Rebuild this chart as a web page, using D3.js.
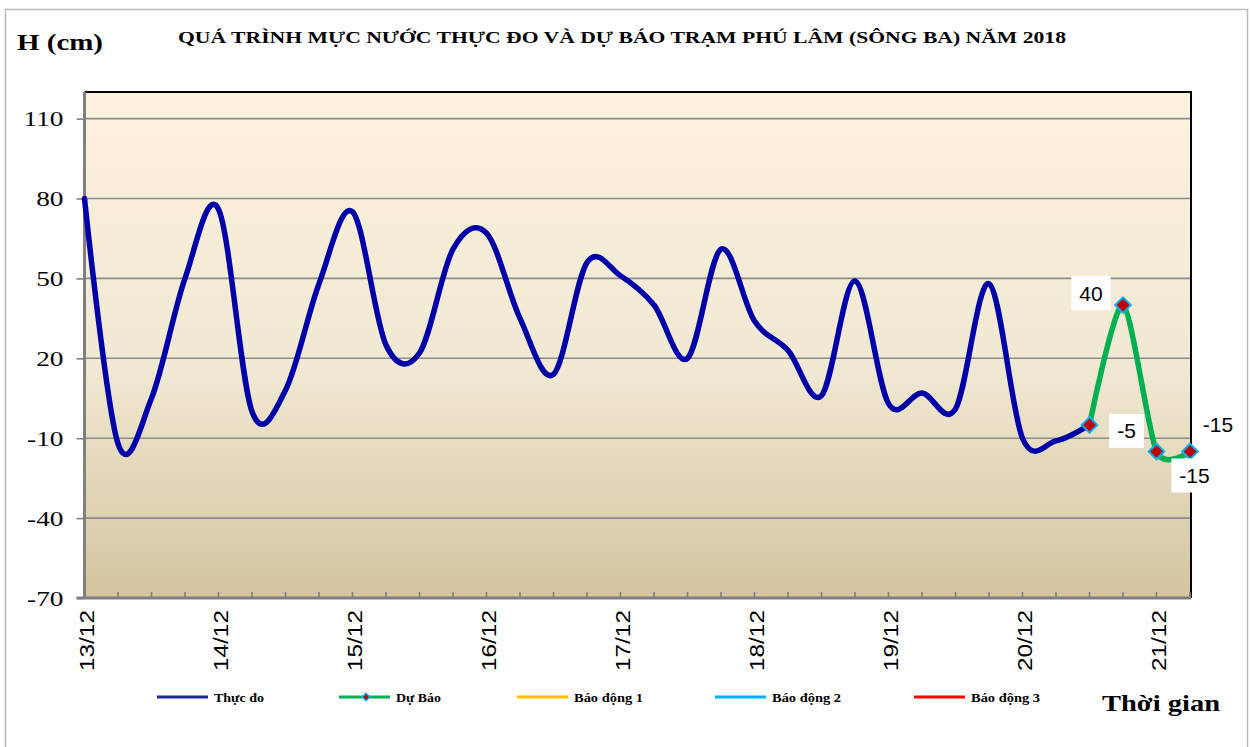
<!DOCTYPE html>
<html>
<head>
<meta charset="utf-8">
<script src="https://cdn.jsdelivr.net/npm/d3@7/dist/d3.min.js"></script>
<style>
  html, body { margin: 0; padding: 0; background: #fff; }
  svg { display: block; }
</style>
</head>
<body>
<script>
// ---------------- DATA ----------------
const dayLabels = ["13/12", "14/12", "15/12", "16/12", "17/12", "18/12", "19/12", "20/12", "21/12"];
const stepsPerDay = 4; // 6-hourly values
const observed = [80, -12, 5, 50, 76, 0, 8, 48, 75, 25, 22, 61, 67, 35, 14, 56, 51, 40, 20, 61, 34, 23, 6, 49, 3, 7, 1, 48, -10, -11, -5];
const forecast = [-5, 40, -15, -15];
const forecastStart = 30;
const yTicks = [110, 80, 50, 20, -10, -40, -70];
const legendItems = ["Thực đo", "Dự Báo", "Báo động 1", "Báo động 2", "Báo động 3"];
const titleText = "QUÁ TRÌNH MỰC NƯỚC THỰC ĐO VÀ DỰ BÁO TRẠM PHÚ LÂM (SÔNG BA) NĂM 2018";

// ---------------- LAYOUT ----------------
const W = 1251, H = 747;
const plot = { left: 84.5, right: 1191, top: 92, bottom: 598 };
const nPoints = observed.length + forecast.length - 1; // 34
const fmt = d => String(d); // plain hyphen-minus like the original

const svg = d3.select("body").append("svg").attr("width", W).attr("height", H);

const x = d3.scaleLinear().domain([0, nPoints - 1]).range([plot.left, plot.right - 1]);
const y = d3.scaleLinear().domain([-70, 120]).range([plot.bottom, plot.top]);

// background + outer border
svg.append("rect").attr("width", W).attr("height", H).attr("fill", "#fff");
svg.append("rect").attr("x", 5.5).attr("y", 9.5).attr("width", 1242).attr("height", 745)
  .attr("fill", "none").attr("stroke", "#B8B8B8").attr("stroke-width", 1.5);

const defs = svg.append("defs");
const grad = defs.append("linearGradient").attr("id", "bg").attr("x1", 0).attr("y1", 0).attr("x2", 0).attr("y2", 1);
grad.append("stop").attr("offset", "0%").attr("stop-color", "#FCF2DE");
grad.append("stop").attr("offset", "55%").attr("stop-color", "#F0E8D2");
grad.append("stop").attr("offset", "100%").attr("stop-color", "#D4C49F");

svg.append("rect").attr("x", plot.left).attr("y", plot.top)
  .attr("width", plot.right - plot.left).attr("height", plot.bottom - plot.top)
  .attr("fill", "url(#bg)");

// gridlines
svg.append("g").selectAll("line").data(yTicks.filter(v => v !== -70)).join("line")
  .attr("x1", plot.left).attr("x2", plot.right)
  .attr("y1", d => y(d)).attr("y2", d => y(d))
  .attr("stroke", "#8C8C8C").attr("stroke-width", 1.6);

// top & right border (black)
svg.append("path")
  .attr("d", `M${plot.left},${plot.top}H${plot.right}V${plot.bottom}`)
  .attr("fill", "none").attr("stroke", "#000").attr("stroke-width", 2);

// y axis
const yAxis = d3.axisLeft(y).tickValues(yTicks).tickSize(8).tickFormat(fmt);
const gy = svg.append("g").attr("transform", `translate(${plot.left},0)`).call(yAxis);
gy.select(".domain").remove();
gy.selectAll(".tick line").attr("stroke", "#808080").attr("stroke-width", 1.6);
gy.selectAll(".tick text")
  .attr("x", -21).attr("dy", "0.35em")
  .style("font-family", "'Liberation Serif', 'Times New Roman', serif")
  .style("font-size", "21px").attr("fill", "#000")
  .each(function () {
    const w = this.getComputedTextLength();
    d3.select(this).attr("textLength", w * 1.3).attr("lengthAdjust", "spacingAndGlyphs");
  });
svg.append("line").attr("x1", plot.left).attr("x2", plot.left)
  .attr("y1", plot.top).attr("y2", plot.bottom + 1)
  .attr("stroke", "#808080").attr("stroke-width", 3);

// x axis
const gx = svg.append("g").attr("transform", `translate(0,${plot.bottom})`);
gx.append("line").attr("x1", plot.left - 8).attr("x2", plot.right)
  .attr("y1", 0).attr("y2", 0).attr("stroke", "#808080").attr("stroke-width", 3);
gx.selectAll("line.minor").data(d3.range(1, nPoints)).join("line").attr("class", "minor")
  .attr("x1", d => x(d)).attr("x2", d => x(d)).attr("y1", 0).attr("y2", -6)
  .attr("stroke", "#808080").attr("stroke-width", 1.6);
gx.selectAll("text").data(dayLabels).join("text")
  .attr("transform", (d, i) => `translate(${x(i * stepsPerDay) + 2},12) rotate(-90)`)
  .attr("text-anchor", "end").attr("dy", "0.35em")
  .style("font-family", "'Liberation Sans', Arial, sans-serif").style("font-size", "20px")
  .attr("fill", "#000")
  .text(d => d)
  .each(function () {
    const w = this.getComputedTextLength();
    d3.select(this).attr("textLength", w * 1.22).attr("lengthAdjust", "spacingAndGlyphs");
  });

// lines
const obsData = observed.map((v, i) => [i, v]);
const fcData = forecast.map((v, i) => [forecastStart + i, v]);
const lineObs = d3.line().x(d => x(d[0])).y(d => y(d[1])).curve(d3.curveCardinal.tension(0));
const lineFc = d3.line().x(d => x(d[0])).y(d => y(d[1])).curve(d3.curveCardinal.tension(0.25));

svg.append("path").datum(obsData).attr("d", lineObs)
  .attr("fill", "none").attr("stroke", "#0000A8").attr("stroke-width", 5.5)
  .attr("stroke-linejoin", "round").attr("stroke-linecap", "round");
svg.append("path").datum(fcData).attr("d", lineFc)
  .attr("fill", "none").attr("stroke", "#00B050").attr("stroke-width", 5.5)
  .attr("stroke-linejoin", "round").attr("stroke-linecap", "round");

// markers
const diamond = d3.symbol().type(d3.symbolSquare).size(120);
svg.append("g").selectAll("path").data(fcData).join("path")
  .attr("d", diamond)
  .attr("transform", d => `translate(${x(d[0])},${y(d[1])}) rotate(45)`)
  .attr("fill", "#C00000").attr("stroke", "#00B0F0").attr("stroke-width", 2);

// data labels (offsets relative to point)
const labelOffsets = [[37, 6], [-32, -12], [38, 24], [28, -27]];
const lbl = svg.append("g");
fcData.forEach((d, i) => {
  const cx = x(d[0]) + labelOffsets[i][0];
  const cy = y(d[1]) + labelOffsets[i][1];
  const t = lbl.append("text").attr("x", cx).attr("y", cy).attr("dy", "0.36em")
    .attr("text-anchor", "middle")
    .style("font-family", "'Liberation Sans', Arial, sans-serif").style("font-size", "21px")
    .attr("fill", "#000").text(fmt(d[1]));
  const bb = t.node().getBBox();
  lbl.insert("rect", "text").attr("x", bb.x - 8).attr("y", cy - 17)
    .attr("width", bb.width + 16).attr("height", 34).attr("fill", "#fff");
});

// titles
svg.append("text").attr("x", 178).attr("y", 43)
  .style("font-family", "'Liberation Serif', 'Times New Roman', serif").style("font-weight", "bold")
  .style("font-size", "17px").attr("textLength", 888).attr("lengthAdjust", "spacingAndGlyphs")
  .text(titleText);
svg.append("text").attr("x", 17).attr("y", 50)
  .style("font-family", "'Liberation Serif', 'Times New Roman', serif").style("font-weight", "bold")
  .style("font-size", "24px").attr("textLength", 86).attr("lengthAdjust", "spacingAndGlyphs")
  .text("H (cm)");
svg.append("text").attr("x", 1102).attr("y", 711)
  .style("font-family", "'Liberation Serif', 'Times New Roman', serif").style("font-weight", "bold")
  .style("font-size", "24px").attr("textLength", 118).attr("lengthAdjust", "spacingAndGlyphs")
  .text("Thời gian");

// legend
const legendColors = ["#1F1FA8", "#00B050", "#FFC000", "#00B0F0", "#FF0000"];
const legendX = [157, 339, 517, 715, 914];
const legendTextW = [50, 45, 69, 69, 69];
const ly = 697;
const lg = svg.append("g");
legendItems.forEach((name, i) => {
  lg.append("line").attr("x1", legendX[i]).attr("x2", legendX[i] + 51)
    .attr("y1", ly).attr("y2", ly).attr("stroke", legendColors[i]).attr("stroke-width", 3);
  if (i === 1) {
    lg.append("path").attr("d", d3.symbol().type(d3.symbolSquare).size(28))
      .attr("transform", `translate(${legendX[i] + 27},${ly}) rotate(45)`)
      .attr("fill", "#C00000").attr("stroke", "#00B0F0").attr("stroke-width", 1.5);
  }
  lg.append("text").attr("x", legendX[i] + 57).attr("y", ly + 4.5)
    .style("font-family", "'Liberation Serif', 'Times New Roman', serif").style("font-weight", "bold")
    .style("font-size", "12px").attr("textLength", legendTextW[i]).attr("lengthAdjust", "spacingAndGlyphs")
    .text(name);
});
</script>
</body>
</html>
